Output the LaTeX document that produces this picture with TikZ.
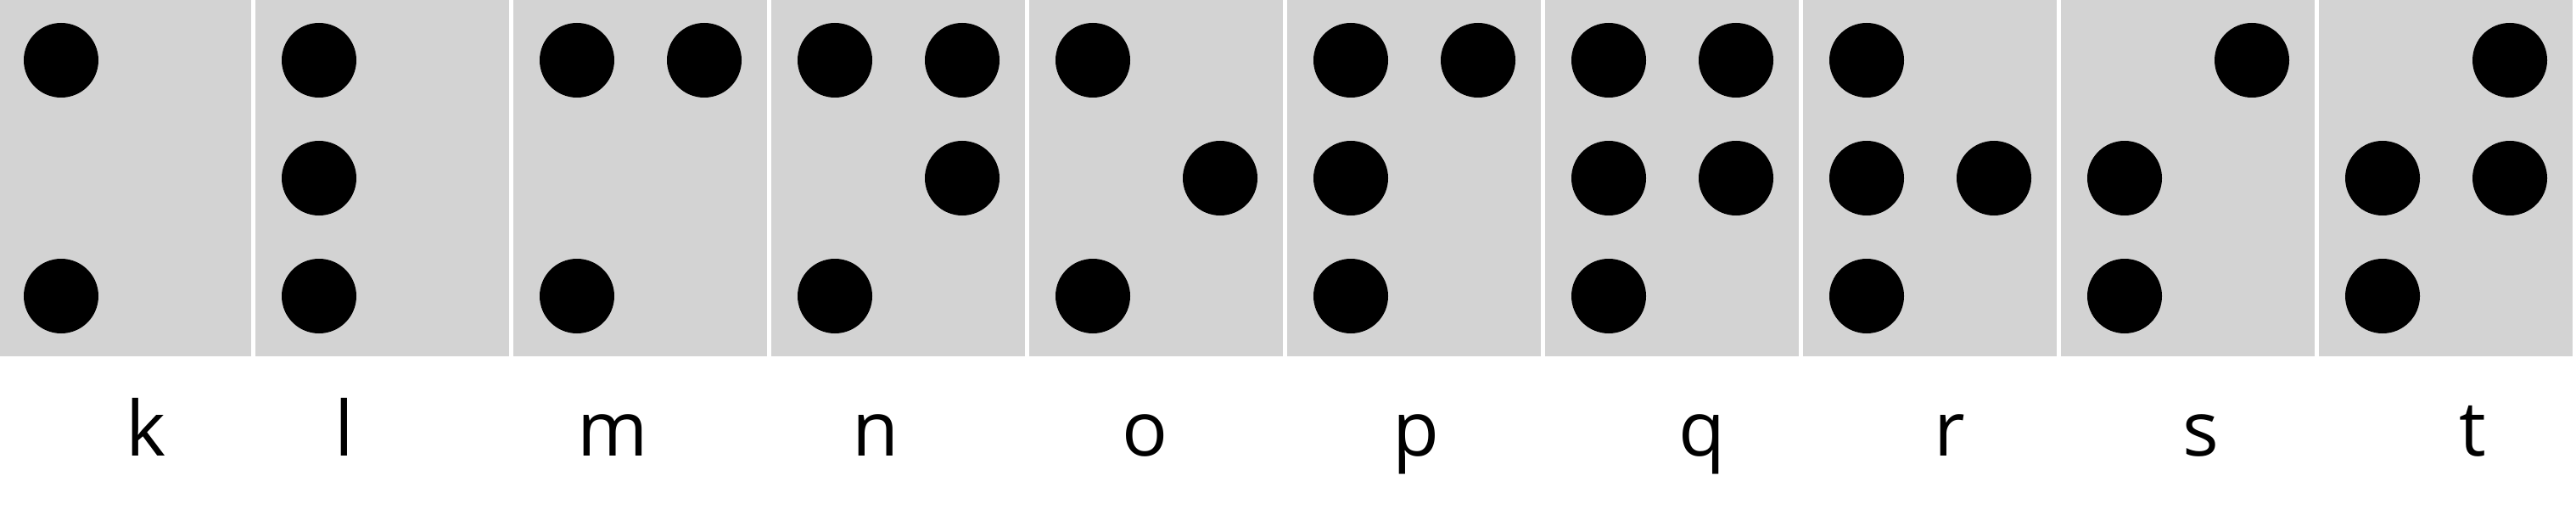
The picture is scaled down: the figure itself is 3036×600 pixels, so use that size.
\documentclass[tikz,border=0pt]{standalone}
\usepackage{fontspec}
\setmainfont{Open Sans}
\definecolor{cellgray}{RGB}{211,211,211}
\begin{document}
\begin{tikzpicture}[x=1bp,y=-1bp,
  cellbox/.style={fill=cellgray, draw=none},
  brailledot/.style={circle, fill=black, draw=none, inner sep=0pt, minimum size=88bp},
  letter/.style={anchor=base, inner sep=0pt, font=\fontsize{90}{100}\selectfont}]
\fill[white] (0,0) rectangle (3036,600);
\useasboundingbox (0,0) rectangle (3036,600);
\foreach \i in {0,...,9}{
  \path[cellbox] ({max(0,-3+304*\i)},0) rectangle ({296+304*\i},420);
}
\foreach \i/\c/\r in {0/0/0,0/0/2,
  1/0/0,1/0/1,1/0/2,
  2/0/0,2/0/2,2/1/0,
  3/0/0,3/0/2,3/1/0,3/1/1,
  4/0/0,4/0/2,4/1/1,
  5/0/0,5/0/1,5/0/2,5/1/0,
  6/0/0,6/0/1,6/0/2,6/1/0,6/1/1,
  7/0/0,7/0/1,7/0/2,7/1/1,
  8/0/1,8/0/2,8/1/0,
  9/0/1,9/0/2,9/1/0,9/1/1}{
  \node[brailledot] (d\i-\c-\r) at ({72+304*\i+150*\c},{71+139*\r}) {};
}
\foreach \n/\x in {k/172,l/406,m/722,n/1032,o/1350,p/1669,q/2006,r/2298,s/2594,t/2914}{
  \node[letter] (L\n) at (\x,537) {\n};
}
\end{tikzpicture}
\end{document}
